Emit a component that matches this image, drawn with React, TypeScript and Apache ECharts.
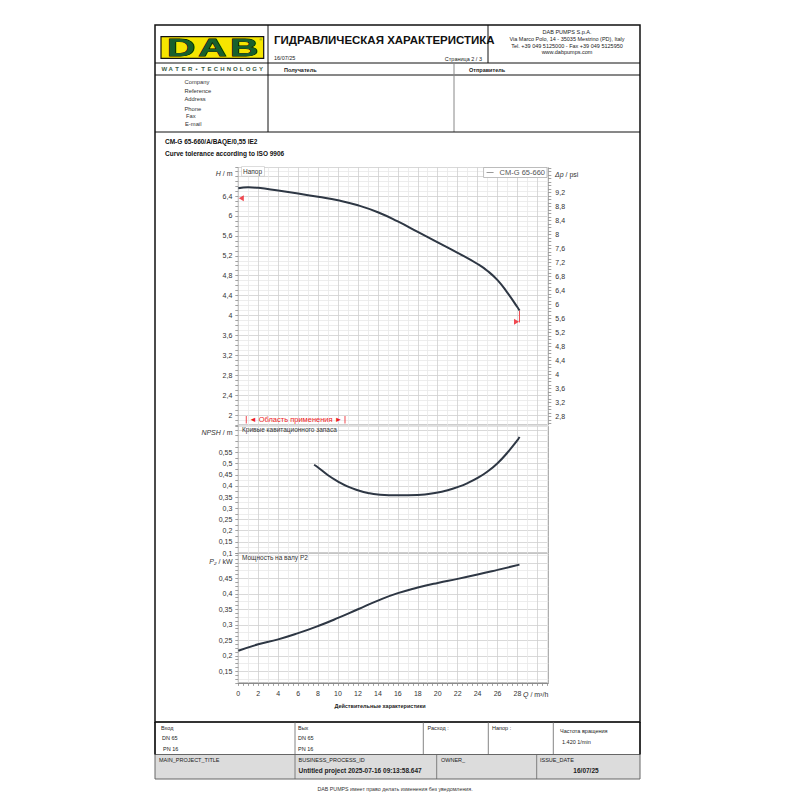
import React, { useEffect, useRef } from "react";
import * as echarts from "echarts";

// ---------------- data ----------------
const Q_HEAD = [0, 1, 2, 4, 6, 8, 10, 12, 14, 16, 18, 20, 22, 24, 25, 26, 27, 28, 28.2];
const HEAD_M = [6.555, 6.575, 6.565, 6.51, 6.45, 6.385, 6.315, 6.215, 6.075, 5.89, 5.68, 5.47, 5.26, 5.035, 4.895, 4.71, 4.455, 4.165, 4.1];
const Q_NPSH = [7.6, 8, 9, 10, 11, 12, 13, 14, 16, 18, 20, 21, 22, 23, 24, 25, 26, 27, 28, 28.2];
const NPSH_M = [0.495, 0.483, 0.448, 0.42, 0.397, 0.381, 0.369, 0.362, 0.358, 0.36, 0.371, 0.381, 0.395, 0.413, 0.436, 0.465, 0.502, 0.55, 0.605, 0.62];
const Q_POWER = [0, 2, 4, 6, 8, 10, 12, 14, 16, 18, 20, 22, 24, 26, 28.2];
const POWER_KW = [0.216, 0.237, 0.253, 0.273, 0.296, 0.322, 0.35, 0.378, 0.402, 0.42, 0.435, 0.448, 0.462, 0.477, 0.494];
const TOL_LEFT = [0, 6.354];
const TOL_RIGHT = [28.2, 3.875];
const TOL_LINE = [[28.2, 4.1], [28.2, 3.86]];
const APP_RANGE = [0.8, 10.7];
const PSI_LABELS = [2.8, 3.2, 3.6, 4, 4.4, 4.8, 5.2, 5.6, 6, 6.4, 6.8, 7.2, 7.6, 8, 8.4, 8.8, 9.2];
const X_LABEL_MAX = 28;
const H_LABEL_MAX = 6.4;
const NPSH_LABEL_MAX = 0.55;
const P_LABEL_RANGE = [0.15, 0.45];
const M_TO_PSI = 1.4219;
const SERIES_NAME = "CM-G 65-660";

// ---------------- layout ----------------
const FONT = "'Liberation Sans', Arial, Helvetica, sans-serif";
const GL = 238.3;
const GW = 310;
const X_MAX = 31.09;
const PX_PER_Q = GW / X_MAX;
const H_MIN = 1.8, H_MAX = 6.974;
const N_MIN = 0.1, N_MAX = 0.6685;
const P_MIN = 0.1125, P_MAX = 0.5299;

const MAJOR = "#cfcfcf";
const MINOR = "#e9e9e9";
const NONE = "rgba(0,0,0,0)";
const CURVE = "#2e3744";
const RED = "#ee1c25";

const isMult = (v: number, step: number) => Math.abs(v / step - Math.round(v / step)) < 1e-6;
const fmt = (v: number) => String(Math.round(v * 1000) / 1000).replace(".", ",");
const zip = (a: number[], b: number[]) => a.map((x, i) => [x, b[i]]);

function txt(x: number, y: number, text: string, o: any = {}) {
  return {
    type: "text",
    x,
    y,
    z: o.z ?? 50,
    silent: true,
    scaleX: o.scaleX ?? 1,
    style: {
      text,
      fill: o.fill ?? "#222",
      fontSize: o.size ?? 6,
      fontFamily: FONT,
      fontWeight: o.bold ? "bold" : "normal",
      fontStyle: o.italic ? "italic" : "normal",
      textAlign: o.align ?? "left",
      align: o.align ?? "left",
      textVerticalAlign: "middle",
      verticalAlign: "middle",
      ...(o.style || {}),
    },
  };
}
function ln(x1: number, y1: number, x2: number, y2: number, stroke = "#111", lw = 1, z = 60) {
  return { type: "line", z, silent: true, shape: { x1, y1, x2, y2 }, style: { stroke, lineWidth: lw } };
}
function rc(x: number, y: number, w: number, h: number, style: any, z = 5) {
  return { type: "rect", z, silent: true, shape: { x, y, width: w, height: h }, style };
}

function buildGraphics() {
  const g: any[] = [];
  // main frame
  g.push(rc(155, 25, 485, 697, { fill: "none", stroke: "#111", lineWidth: 1.5 }, 60));
  g.push(ln(268, 25, 268, 132));
  g.push(ln(488, 25, 488, 63));
  g.push(ln(155, 63, 640, 63));
  g.push(ln(155, 75, 640, 75));
  g.push(ln(454, 63, 454, 132, "#888", 1));
  g.push(ln(155, 132, 640, 132));

  // logo
  g.push(rc(161, 36.7, 102.7, 21.6, { fill: "#f6e500", stroke: "#111", lineWidth: 1.2 }, 20));
  [["D", 181], ["A", 212.3], ["B", 244.2]].forEach(([ch, cx]) => {
    g.push(
      txt(cx as number, 47.8, ch as string, {
        size: 23,
        bold: true,
        align: "center",
        scaleX: 1.7,
        fill: "#17602d",
        z: 30,
        style: { stroke: "#000", lineWidth: 0.8, fontWeight: 900 },
      })
    );
  });
  g.push(txt(260.5, 39.5, "®", { size: 3.5, align: "center", z: 30, fill: "#17602d" }));
  const wt = "WATER•TECHNOLOGY";
  wt.split("").forEach((ch, i) => {
    g.push(txt(164.3 + i * 6.45, 68.5, ch, { size: 6, bold: true, align: "center", fill: "#3c5a44" }));
  });

  // title block
  g.push(txt(274, 39.5, "ГИДРАВЛИЧЕСКАЯ ХАРАКТЕРИСТИКА", { size: 11.5, bold: true, fill: "#111" }));
  g.push(txt(274, 58, "16/07/25", { size: 5.5 }));
  g.push(txt(482, 58.5, "Страница 2 / 3", { size: 5.5, align: "right" }));

  // company block (right header)
  g.push(txt(567, 32.3, "DAB PUMPS S.p.A.", { size: 5.5, align: "center" }));
  g.push(txt(567, 39, "Via Marco Polo, 14 - 35035 Mestrino (PD), Italy", { size: 5.5, align: "center" }));
  g.push(txt(567, 45.7, "Tel. +39 049 5125000 - Fax +39 049 5125950", { size: 5.5, align: "center" }));
  g.push(txt(567, 52.3, "www.dabpumps.com", { size: 5.5, align: "center" }));

  g.push(txt(284, 70.3, "Получатель", { size: 5.5, bold: true }));
  g.push(txt(469, 70.3, "Отправитель", { size: 5.5, bold: true }));

  const labels: [string, number, number][] = [
    ["Company", 184.5, 82.3],
    ["Reference", 184.5, 90.7],
    ["Address", 184.5, 99.3],
    ["Phone", 184.5, 108.5],
    ["Fax", 186, 116.2],
    ["E-mail", 185, 123.5],
  ];
  labels.forEach(([t, x, y]) => g.push(txt(x, y, t, { size: 5.8, fill: "#333" })));

  g.push(txt(165, 141.5, "CM-G 65-660/A/BAQE/0,55 IE2", { size: 6.5, bold: true, fill: "#111" }));
  g.push(txt(165, 153.5, "Curve tolerance according to ISO 9906", { size: 6.5, bold: true, fill: "#111" }));

  // axis names
  const rich = { i: { fontStyle: "italic", fontSize: 7, fontFamily: FONT, fill: "#333" } };
  g.push(txt(232.5, 173.5, "{i|H} / m", { size: 7, align: "right", fill: "#333", style: { rich } }));
  g.push(txt(555, 174, "{i|Δp} / psi", { size: 7, fill: "#333", style: { rich } }));
  g.push(txt(232.5, 432, "{i|NPSH} / m", { size: 7, align: "right", fill: "#333", style: { rich } }));
  g.push(txt(232.5, 561.5, "{i|P₂} / kW", { size: 7, align: "right", fill: "#333", style: { rich } }));
  g.push(txt(523, 694, "{i|Q} / m³/h", { size: 7, fill: "#333", style: { rich } }));
  g.push(txt(380, 705.7, "Действительные характеристики", { size: 5.5, bold: true, align: "center", fill: "#222" }));

  // panel captions
  g.push(
    txt(242, 171.3, "Напор", {
      size: 6.5,
      fill: "#333",
      z: 70,
      style: { backgroundColor: "#fff", borderColor: "#c8c8c8", borderWidth: 0.6, padding: [1, 2, 1, 1] },
    })
  );
  g.push(txt(242, 429.6, "Кривые кавитационного запаса", { size: 6.5, fill: "#333", z: 70 }));
  g.push(txt(242, 557.6, "Мощность на валу P2", { size: 6.5, fill: "#333", z: 70 }));

  // application range annotation
  const ax1 = GL + APP_RANGE[0] * PX_PER_Q;
  const ax2 = GL + APP_RANGE[1] * PX_PER_Q;
  g.push(ln(ax1, 416, ax1, 423.5, RED, 0.8, 70));
  g.push(ln(ax2, 416, ax2, 423.5, RED, 0.8, 70));
  g.push(txt((ax1 + ax2) / 2, 419.8, "◄ Область применения ►", { size: 7.5, fill: RED, align: "center", z: 70 }));

  // footer table
  g.push(rc(155, 722, 485, 32.5, { fill: "#fff", stroke: "#444", lineWidth: 1 }, 5));
  g.push(ln(155, 722, 155, 754.5, "#111", 1.5));
  g.push(ln(640, 722, 640, 754.5, "#111", 1.5));
  [295, 423.3, 488.3, 553.3].forEach((x) => g.push(ln(x, 722, x, 754.5, "#666", 0.8)));
  g.push(rc(155, 754.5, 485, 24.5, { fill: "#dcdcdc", stroke: "#666", lineWidth: 1 }, 5));
  [295, 436.7, 536.7].forEach((x) => g.push(ln(x, 754.5, x, 779, "#666", 0.8)));

  const fs = 5.5;
  g.push(txt(161, 727.7, "Вход", { size: fs }));
  g.push(txt(162, 738, "DN 65", { size: fs }));
  g.push(txt(163, 748.5, "PN 16", { size: fs }));
  g.push(txt(298, 727.7, "Вых", { size: fs }));
  g.push(txt(298, 738, "DN 65", { size: fs }));
  g.push(txt(298, 748.5, "PN 16", { size: fs }));
  g.push(txt(427.5, 727.7, "Расход :", { size: fs }));
  g.push(txt(492, 727.7, "Напор :", { size: fs }));
  g.push(txt(560, 731.3, "Частота вращения", { size: fs }));
  g.push(txt(562, 742, "1.420 1/min", { size: fs }));
  g.push(txt(159, 759.7, "MAIN_PROJECT_TITLE", { size: fs }));
  g.push(txt(298.5, 759.7, "BUSINESS_PROCESS_ID", { size: fs }));
  g.push(txt(298.5, 770.7, "Untitled project 2025-07-16 09:13:58.647", { size: 6.5, bold: true }));
  g.push(txt(441, 759.7, "OWNER_", { size: fs }));
  g.push(txt(540, 759.7, "ISSUE_DATE", { size: fs }));
  g.push(txt(586, 770.7, "16/07/25", { size: 6.5, bold: true, align: "center" }));

  g.push(txt(395, 788.8, "DAB PUMPS имеет право делать изменения без уведомления.", { size: 5.3, align: "center", fill: "#333" }));
  return g;
}

function xAxis(gridIndex: number, showLabels: boolean) {
  return {
    type: "value",
    gridIndex,
    min: 0,
    max: X_MAX,
    interval: 0.5,
    axisLine: { show: showLabels, lineStyle: { color: "#8a8a8a", width: 1 } },
    axisTick: { show: showLabels, length: 3, lineStyle: { color: "#8a8a8a", width: 0.8 } },
    axisLabel: {
      show: showLabels,
      margin: 7,
      fontSize: 7,
      fontFamily: FONT,
      color: "#333",
      showMaxLabel: false,
      formatter: (v: number) => (isMult(v, 2) && v <= X_LABEL_MAX + 1e-6 ? fmt(v) : ""),
    },
    splitLine: { show: true, lineStyle: { color: [MAJOR, NONE, MINOR, NONE], width: 0.8 } },
  };
}

function leftAxis(gridIndex: number, min: number, max: number, interval: number, colors: string[], labelFn: (v: number) => string) {
  return {
    type: "value",
    gridIndex,
    position: "left",
    min,
    max,
    interval,
    axisLine: { show: false },
    axisTick: { show: true, length: 3, lineStyle: { color: "#8a8a8a", width: 0.8 } },
    axisLabel: {
      margin: 6,
      fontSize: 7,
      fontFamily: FONT,
      color: "#333",
      showMaxLabel: true,
      showMinLabel: true,
      formatter: labelFn,
    },
    splitLine: { show: true, lineStyle: { color: colors, width: 0.8 } },
  };
}

export default function App() {
  const ref = useRef<HTMLDivElement>(null);
  useEffect(() => {
    if (!ref.current) return;
    const chart = echarts.init(ref.current, undefined, { renderer: "svg" });
    const psiMinor: number[] = [];
    for (let i = 26; i <= 99; i++) psiMinor.push(i / 10);

    const curve = (name: string, xi: number, yi: number, data: number[][]) => ({
      name,
      type: "line",
      xAxisIndex: xi,
      yAxisIndex: yi,
      data,
      smooth: 0.5,
      showSymbol: false,
      symbol: "none",
      lineStyle: { color: CURVE, width: 2 },
      itemStyle: { color: CURVE },
      z: 5,
    });

    const option: any = {
      animation: false,
      backgroundColor: "#fff",
      textStyle: { fontFamily: FONT },
      legend: {
        data: [SERIES_NAME],
        right: 253,
        top: 167.5,
        orient: "horizontal",
        icon: "rect",
        itemWidth: 7,
        itemHeight: 1,
        itemGap: 2,
        padding: [1, 2, 1, 3],
        borderColor: "#b0b0b0",
        borderWidth: 0.8,
        backgroundColor: "#fff",
        itemStyle: { color: "#999" },
        textStyle: { fontSize: 7.5, color: "#555", fontFamily: FONT, padding: [0, 0, 0, 1] },
        z: 20,
      },
      grid: [
        { left: GL, top: 167.5, width: GW, height: 257.5, show: true, borderColor: "#9a9a9a", borderWidth: 1, outerBoundsMode: "none" },
        { left: GL, top: 426, width: GW, height: 127, show: true, borderColor: "#9a9a9a", borderWidth: 1, outerBoundsMode: "none" },
        { left: GL, top: 553.5, width: GW, height: 129.4, show: true, borderColor: "#9a9a9a", borderWidth: 1, outerBoundsMode: "none" },
      ],
      xAxis: [xAxis(0, false), xAxis(1, false), xAxis(2, true)],
      yAxis: [
        leftAxis(0, H_MIN, H_MAX, 0.1, [MINOR, MINOR, MAJOR, MINOR], (v) =>
          isMult(v, 0.4) && v <= H_LABEL_MAX + 1e-6 ? fmt(v) : ""
        ),
        {
          type: "value",
          gridIndex: 0,
          position: "right",
          min: H_MIN * M_TO_PSI,
          max: H_MAX * M_TO_PSI,
          axisLine: { show: false },
          axisTick: { show: true, length: 3, customValues: psiMinor, lineStyle: { color: "#8a8a8a", width: 0.8 } },
          axisLabel: { margin: 7, fontSize: 7, fontFamily: FONT, color: "#333", customValues: PSI_LABELS, formatter: (v: number) => fmt(v) },
          splitLine: { show: false },
        },
        leftAxis(1, N_MIN, N_MAX, 0.025, [MAJOR, MINOR], (v) =>
          isMult(v, 0.05) && v <= NPSH_LABEL_MAX + 1e-6 ? fmt(v) : ""
        ),
        leftAxis(2, P_MIN, P_MAX, 0.0125, [NONE, MINOR, NONE, MAJOR], (v) =>
          isMult(v, 0.05) && v >= P_LABEL_RANGE[0] - 1e-6 && v <= P_LABEL_RANGE[1] + 1e-6 ? fmt(v) : ""
        ),
      ],
      series: [
        curve(SERIES_NAME, 0, 0, zip(Q_HEAD, HEAD_M)),
        {
          name: "tol-line",
          type: "line",
          xAxisIndex: 0,
          yAxisIndex: 0,
          data: TOL_LINE,
          symbol: "none",
          lineStyle: { color: RED, width: 0.8 },
          z: 4,
        },
        {
          name: "tol-left",
          type: "scatter",
          xAxisIndex: 0,
          yAxisIndex: 0,
          data: [TOL_LEFT],
          symbol: "triangle",
          symbolSize: [6, 5],
          symbolRotate: 90,
          symbolOffset: [3, 0],
          itemStyle: { color: RED },
          z: 6,
        },
        {
          name: "tol-right",
          type: "scatter",
          xAxisIndex: 0,
          yAxisIndex: 0,
          data: [TOL_RIGHT],
          symbol: "triangle",
          symbolSize: [6, 5],
          symbolRotate: -90,
          symbolOffset: [-3, 0],
          itemStyle: { color: RED },
          z: 6,
        },
        curve("NPSH", 1, 2, zip(Q_NPSH, NPSH_M)),
        curve("P2", 2, 3, zip(Q_POWER, POWER_KW)),
      ],
      graphic: { elements: buildGraphics() },
    };
    chart.setOption(option);
    return () => chart.dispose();
  }, []);
  return (
    <div
      ref={ref}
      style={{ position: "absolute", left: 0, top: 0, width: 800, height: 800, background: "#fff" }}
    />
  );
}
